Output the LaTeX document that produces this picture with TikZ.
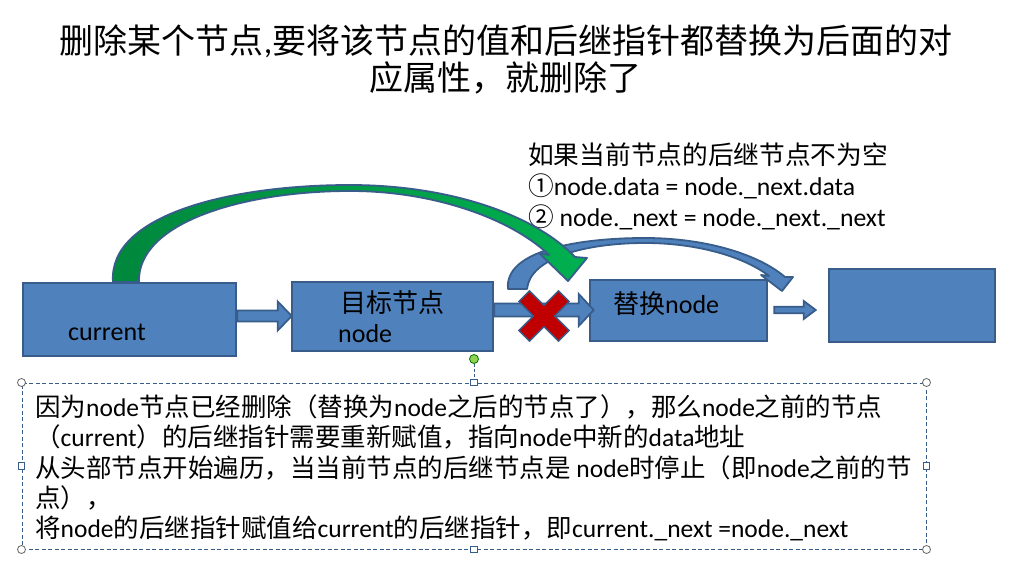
\documentclass[tikz,border=0pt]{standalone}
\usepackage{fontspec}
\setmainfont{Carlito}
\newfontfamily\cjk{Noto Sans CJK SC}
\newcommand{\zh}[1]{{\cjk #1}}
\usetikzlibrary{calc}
\definecolor{boxfill}{RGB}{79,129,189}
\definecolor{boxline}{RGB}{56,93,138}
\definecolor{xred}{RGB}{192,0,0}
\definecolor{greenL}{RGB}{0,176,80}
\definecolor{greenD}{RGB}{0,135,60}
\definecolor{handleG}{RGB}{146,208,80}
\tikzset{
  boxnode/.style={draw=boxline, fill=boxfill, line width=2.6pt, inner sep=0pt},
  barr/.style={draw=boxline, fill=boxfill, line width=1.8pt, line join=miter},
  arcar/.style={draw=boxline, line width=1.8pt, line join=round},
  lbl/.style={inner sep=0pt, font=\fontsize{26}{30}\selectfont},
  ann/.style={inner sep=0pt, anchor=base west, font=\fontsize{25.7}{30}\selectfont},
  ttl/.style={inner sep=0pt, anchor=base, font=\fontsize{34}{40}\selectfont},
  body/.style={inner sep=0pt, anchor=base west, font=\fontsize{25.5}{30}\selectfont},
  dashbox/.style={draw=boxline, line width=1pt, dash pattern=on 4pt off 2.5pt, inner sep=0pt},
  hcirc/.style={circle, draw=gray!80!black, fill=white, line width=0.8pt, minimum size=8pt, inner sep=0pt},
  hsq/.style={rectangle, draw=boxline, fill=white, line width=0.8pt, minimum size=6.5pt, inner sep=0pt},
  hgreen/.style={circle, draw=green!45!black, fill=handleG, line width=0.8pt, minimum size=9pt, inner sep=0pt},
}
\newcommand\barrow[5]{\draw[barr] let \p1=(#1), \p2=(#2) in
  (\x1,\y2+#3) -- (\x2-#5,\y2+#3) -- (\x2-#5,\y2+#4) -- (\x2,\y2) --
  (\x2-#5,\y2-#4) -- (\x2-#5,\y2-#3) -- (\x1,\y2-#3) -- cycle;}
\begin{document}
\begin{tikzpicture}[x=1pt,y=-1pt]
\useasboundingbox[fill=white] (0,0) rectangle (1012,564);

% title
\node[ttl] (t1) at (506,54) {\zh{删除某个节点},\zh{要将该节点的值和后继指针都替换为后面的对}};
\node[ttl] (t2) at (505,91) {\zh{应属性，就删除了}};

% annotation
\node[ann] (a1) at (528,165) {\zh{如果当前节点的后继节点不为空}};
\node[ann] (a2) at (528,196) {\zh{①}node.data = node.\_next.data};
\node[ann] (a3) at (528,226) {\zh{②} node.\_next = node.\_next.\_next};

% boxes
\node[boxnode, minimum width=213pt, minimum height=73pt] (cur) at (129.5,319.5) {};
\node[boxnode, minimum width=201pt, minimum height=69pt] (nd) at (392.5,316.5) {};
\node[boxnode, minimum width=177pt, minimum height=61pt] (rep) at (678.5,310.5) {};
\node[boxnode, minimum width=166pt, minimum height=73pt] (rb) at (912,305.5) {};

\node[lbl, anchor=base west] (curl) at (68,340) {current};
\node[lbl, anchor=base west] (ndl1) at (340,312) {\zh{目标节点}};
\node[lbl, anchor=base west] (ndl2) at (338,342) {node};
\node[lbl, anchor=base west] (repl) at (613,313) {\zh{替换}node};

% straight block arrows
\barrow{cur.east |- 0,316}{$(nd.west |- 0,316)+(1,0)$}{5.5pt}{14.5pt}{14pt}
\barrow{nd.east |- 0,310}{$(rep.west |- 0,310)+(5,0)$}{6.5pt}{16pt}{15pt}
\barrow{$(rep.east |- 0,310)+(6,0)$}{$(rb.west |- 0,310)+(-12,0)$}{3.2pt}{9pt}{12pt}

% red cross
\draw[draw=boxline, fill=xred, line width=1.5pt, line join=miter, shift={(544,316)}, rotate=45]
  (7.5,7.5) -- (7.5,28) -- (-7.5,28) -- (-7.5,7.5) -- (-28,7.5) -- (-28,-7.5) -- (-7.5,-7.5) -- (-7.5,-28)
  -- (7.5,-28) -- (7.5,-7.5) -- (28,-7.5) -- (28,7.5) -- cycle;

% blue curved arrow
\path[arcar, fill=boxfill]
  (508,289) .. controls (504,250) and (580,238) .. (645,238)
  .. controls (705,238) and (758,254) .. (785,277)
  -- (793,277) -- (782,291) -- (761,275) -- (769,276)
  .. controls (746,258) and (700,243) .. (645,243)
  .. controls (585,243) and (530,258) .. (527,289) -- cycle;

% green curved arrow
\path[arcar, left color=greenD, right color=greenL]
  (113,282) .. controls (108,215) and (230,185) .. (350,185)
  .. controls (450,185) and (535,215) .. (575,257)
  -- (587,258) -- (568,281) -- (539,253) -- (549,255)
  .. controls (515,222) and (440,191) .. (350,191)
  .. controls (245,191) and (137,222) .. (139,282) -- cycle;

% text box with selection handles
\node[dashbox, minimum width=904pt, minimum height=166pt] (tb) at (474,466) {};
\node[hgreen] (gd) at (474,359) {};
\draw[boxline, line width=0.8pt, dash pattern=on 3pt off 2pt] (gd) -- (tb.north);
\node[hcirc] (c1) at (tb.north west) {};
\node[hcirc] (c2) at (tb.north east) {};
\node[hcirc] (c3) at (tb.south west) {};
\node[hcirc] (c4) at (tb.south east) {};
\node[hsq] (s1) at (tb.north) {};
\node[hsq] (s2) at (tb.south) {};
\node[hsq] (s3) at (tb.west) {};
\node[hsq] (s4) at (tb.east) {};

\node[body] (b1) at (35,416) {\zh{因为}node\zh{节点已经删除（替换为}node\zh{之后的节点了），那么}node\zh{之前的节点}};
\node[body] (b2) at (35,446) {\zh{（}current\zh{）的后继指针需要重新赋值，指向}node\zh{中新的}data\zh{地址}};
\node[body] (b3) at (35,477) {\zh{从头部节点开始遍历，当当前节点的后继节点是} node\zh{时停止（即}node\zh{之前的节}};
\node[body] (b4) at (35,507) {\zh{点），}};
\node[body] (b5) at (35,537) {\zh{将}node\zh{的后继指针赋值给}current\zh{的后继指针，即}current.\_next =node.\_next};
\end{tikzpicture}
\end{document}
